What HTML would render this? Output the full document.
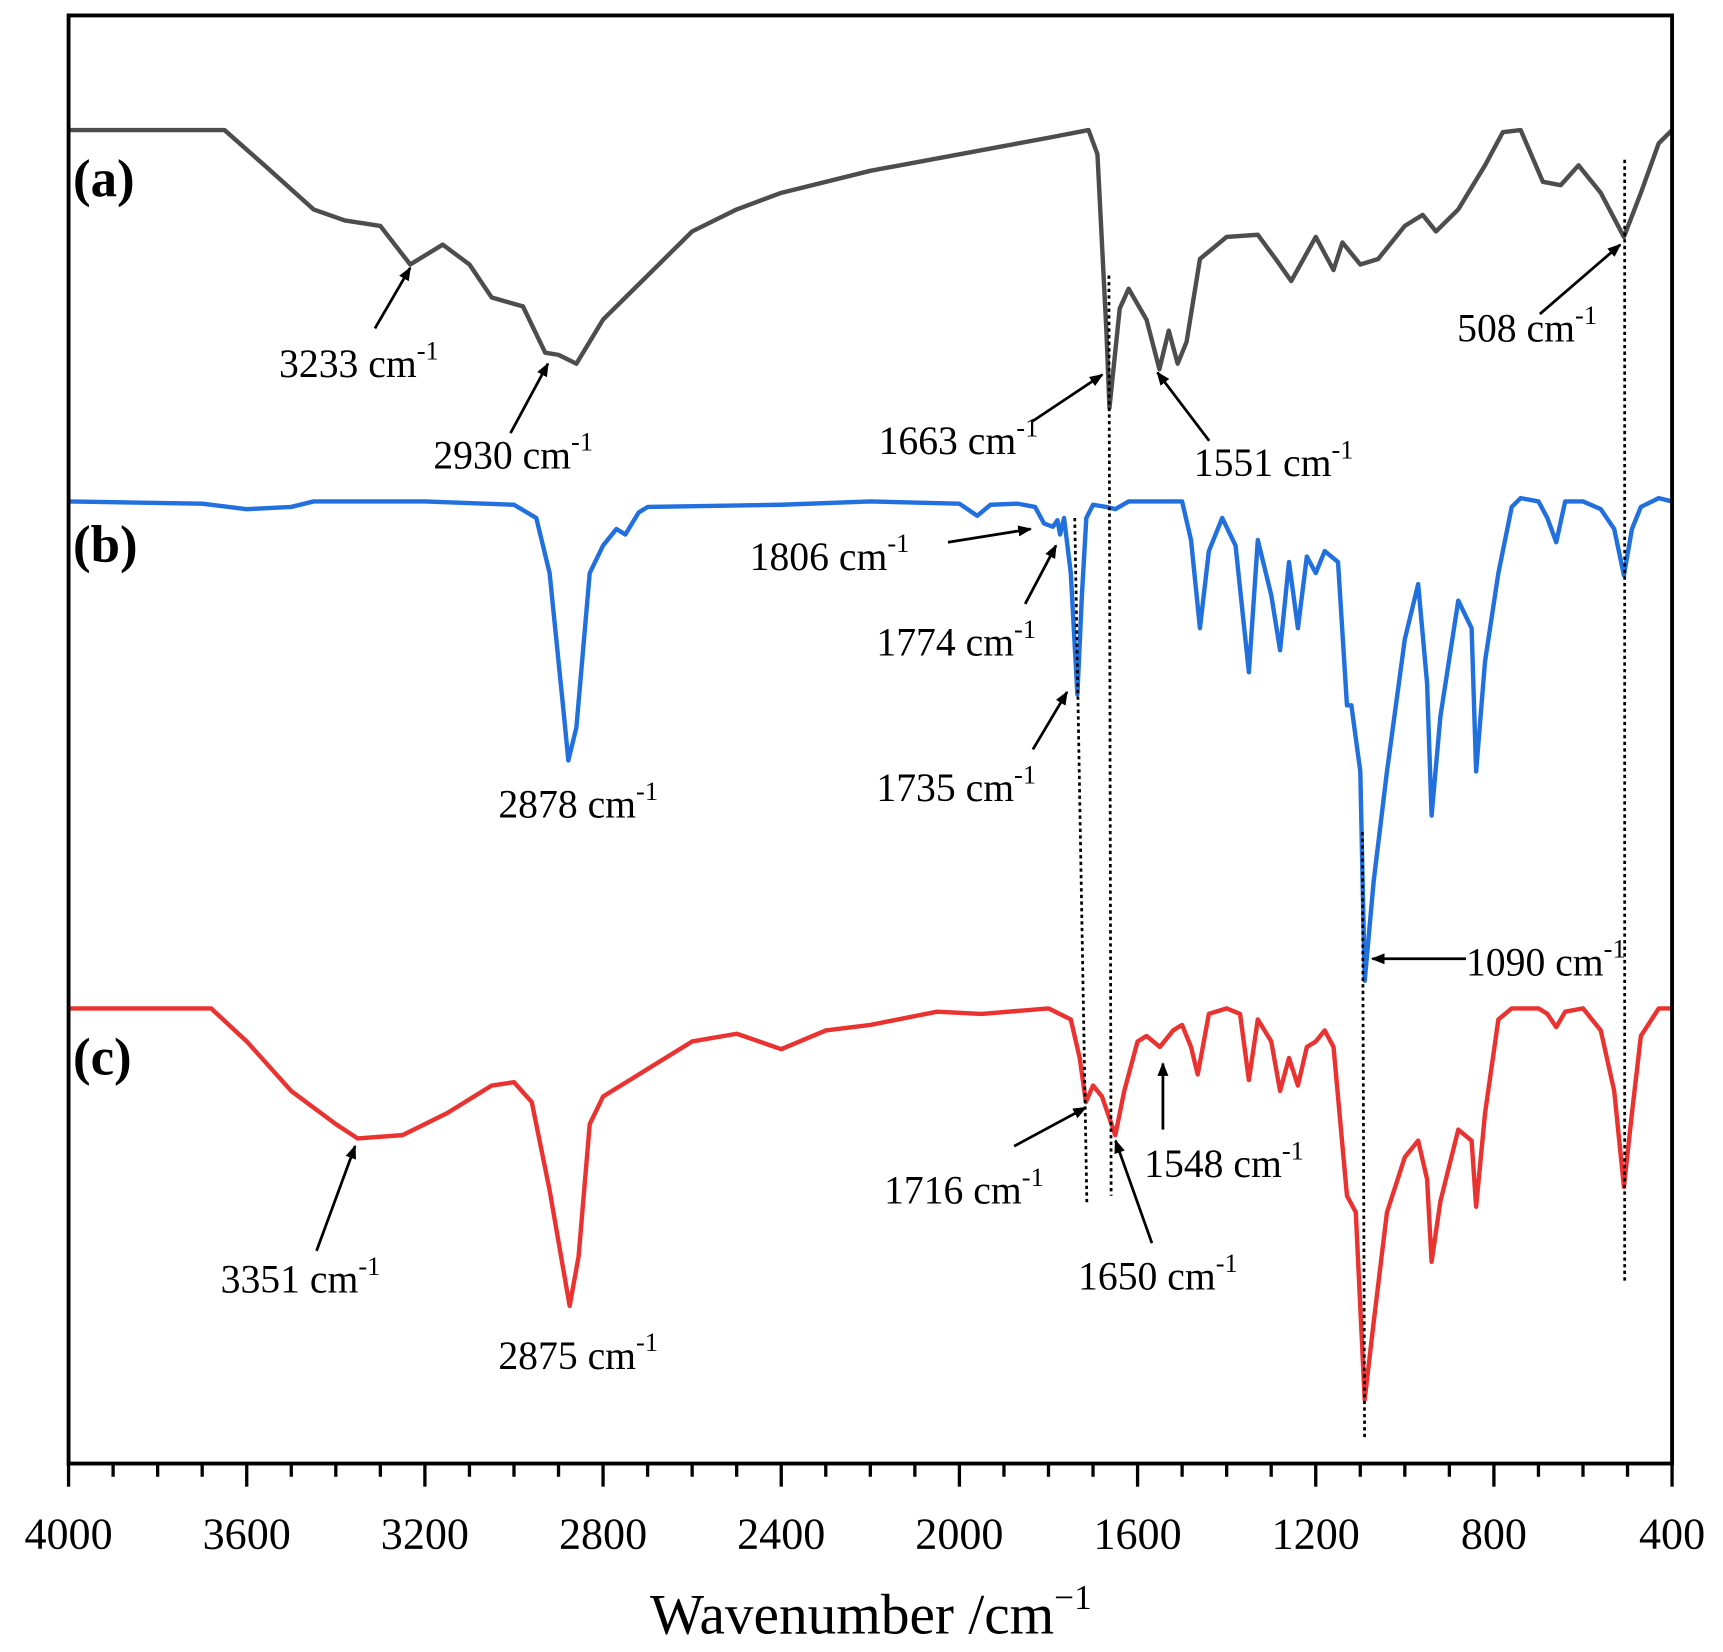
<!DOCTYPE html>
<html><head><meta charset="utf-8"><style>
html,body{margin:0;padding:0;background:#fff;}
svg{display:block;}
text{font-family:"Liberation Serif",serif;fill:#000;}
</style></head><body>
<svg id="s" width="1723" height="1652" viewBox="0 0 1563 1499" xmlns="http://www.w3.org/2000/svg">
<rect x="0" y="0" width="1563" height="1499" fill="#fff"/>
<defs><marker id="ar" viewBox="0 0 10 10" refX="9" refY="5" markerWidth="5" markerHeight="5" orient="auto"><path d="M0,1 L10,5 L0,9 Z" fill="#000"/></marker></defs>
<g id="curves"></g>
<g stroke="#000" stroke-width="2.5" stroke-dasharray="3,3" fill="none">
<line x1="1006" y1="250" x2="1008" y2="1085"/>
<line x1="975" y1="470" x2="986" y2="1092"/>
<line x1="1236" y1="755" x2="1238" y2="1305"/>
<line x1="1474" y1="145" x2="1474" y2="1162"/>
</g>
<rect x="62" y="14" width="1455" height="1314" fill="none" stroke="#000" stroke-width="3.5"/>
<g id="ticks" stroke="#000" stroke-width="3"></g>
<g id="tl" font-size="40" text-anchor="middle"></g>
<text x="790" y="1482" font-size="52" text-anchor="middle">Wavenumber /cm<tspan font-size="32" dy="-22">−1</tspan></text>
<g font-size="48" font-weight="bold"><text x="66" y="178">(a)</text><text x="66" y="510">(b)</text><text x="66" y="975">(c)</text></g>
<g stroke="#000" stroke-width="2.5" marker-end="url(#ar)">
<line x1="340" y1="298" x2="372" y2="243"/>
<line x1="463" y1="393" x2="497" y2="330"/>
<line x1="937" y1="382" x2="1000" y2="340"/>
<line x1="1097" y1="400" x2="1050" y2="338"/>
<line x1="1397" y1="285" x2="1470" y2="222"/>
<line x1="860" y1="492" x2="935" y2="480"/>
<line x1="930" y1="548" x2="958" y2="495"/>
<line x1="937" y1="680" x2="968" y2="628"/>
<line x1="1330" y1="870" x2="1245" y2="870"/>
<line x1="287" y1="1135" x2="322" y2="1040"/>
<line x1="920" y1="1040" x2="985" y2="1005"/>
<line x1="1045" y1="1128" x2="1012" y2="1035"/>
<line x1="1055" y1="1025" x2="1055" y2="965"/>
</g>
<g font-size="36">
<text x="253" y="342">3233 cm<tspan font-size="24" dy="-16">-1</tspan></text>
<text x="393" y="425">2930 cm<tspan font-size="24" dy="-16">-1</tspan></text>
<text x="797" y="412">1663 cm<tspan font-size="24" dy="-16">-1</tspan></text>
<text x="1083" y="432">1551 cm<tspan font-size="24" dy="-16">-1</tspan></text>
<text x="1322" y="310">508 cm<tspan font-size="24" dy="-16">-1</tspan></text>
<text x="680" y="517">1806 cm<tspan font-size="24" dy="-16">-1</tspan></text>
<text x="795" y="595">1774 cm<tspan font-size="24" dy="-16">-1</tspan></text>
<text x="795" y="727">1735 cm<tspan font-size="24" dy="-16">-1</tspan></text>
<text x="452" y="742">2878 cm<tspan font-size="24" dy="-16">-1</tspan></text>
<text x="1330" y="885">1090 cm<tspan font-size="24" dy="-16">-1</tspan></text>
<text x="200" y="1173">3351 cm<tspan font-size="24" dy="-16">-1</tspan></text>
<text x="452" y="1242">2875 cm<tspan font-size="24" dy="-16">-1</tspan></text>
<text x="802" y="1092">1716 cm<tspan font-size="24" dy="-16">-1</tspan></text>
<text x="978" y="1170">1650 cm<tspan font-size="24" dy="-16">-1</tspan></text>
<text x="1038" y="1068">1548 cm<tspan font-size="24" dy="-16">-1</tspan></text>
</g>
<script>
var X=function(w){return 62+(4000-w)/3600*1455;};
var A=[[4000,118],[3650,118],[3560,150],[3450,190],[3380,200],[3300,205],[3233,240],[3160,222],[3100,240],[3050,270],[2980,278],[2930,320],[2900,322],[2860,330],[2800,290],[2700,250],[2600,210],[2500,190],[2400,175],[2200,155],[2000,140],[1800,125],[1710,118],[1690,140],[1670,300],[1663,370],[1640,280],[1620,262],[1580,290],[1551,335],[1530,300],[1510,330],[1490,310],[1460,235],[1400,215],[1330,213],[1290,235],[1255,255],[1200,215],[1160,245],[1140,220],[1100,240],[1060,235],[1000,205],[960,195],[930,210],[880,190],[820,150],[780,120],[740,118],[690,165],[650,168],[610,150],[560,175],[508,215],[470,175],[430,130],[400,118]];
var B=[[4000,455],[3700,457],[3600,462],[3500,460],[3450,455],[3200,455],[3000,458],[2950,470],[2920,520],[2890,640],[2878,690],[2860,660],[2830,520],[2800,495],[2770,480],[2750,485],[2720,465],[2700,460],[2400,458],[2200,455],[2000,457],[1960,468],[1930,458],[1870,457],[1830,460],[1810,475],[1790,478],[1780,472],[1774,485],[1765,470],[1750,520],[1735,630],[1725,540],[1715,470],[1700,458],[1670,460],[1650,462],[1620,455],[1500,455],[1480,490],[1460,570],[1440,500],[1410,470],[1380,495],[1350,610],[1330,490],[1300,540],[1280,590],[1260,510],[1240,570],[1220,505],[1200,520],[1180,500],[1150,510],[1130,640],[1120,640],[1100,700],[1090,890],[1070,800],[1040,700],[1000,580],[970,530],[950,620],[940,740],[920,650],[880,545],[850,570],[840,700],[820,600],[790,520],[760,460],[740,452],[700,455],[680,470],[660,492],[640,455],[600,455],[560,462],[530,480],[508,522],[490,480],[470,460],[430,452],[400,455]];
var C=[[4000,915],[3680,915],[3600,945],[3500,990],[3400,1020],[3351,1033],[3250,1030],[3150,1010],[3050,985],[3000,982],[2960,1000],[2920,1080],[2890,1150],[2875,1185],[2855,1140],[2830,1020],[2800,995],[2700,970],[2600,945],[2500,938],[2400,952],[2300,935],[2200,930],[2050,918],[1950,920],[1800,915],[1750,925],[1730,960],[1716,1000],[1700,985],[1680,995],[1650,1030],[1630,990],[1600,945],[1580,940],[1550,950],[1520,935],[1500,930],[1480,950],[1465,975],[1440,920],[1400,915],[1370,920],[1350,980],[1330,925],[1300,945],[1280,990],[1260,960],[1240,985],[1220,950],[1200,945],[1180,935],[1160,950],[1130,1085],[1110,1100],[1090,1270],[1070,1200],[1040,1100],[1000,1050],[970,1035],[950,1070],[940,1145],[920,1090],[880,1025],[850,1035],[840,1095],[820,1010],[790,925],[760,915],[700,915],[680,920],[660,932],[640,918],[600,915],[560,935],[530,990],[508,1077],[490,1010],[470,940],[430,915],[400,915]];
var NS="http://www.w3.org/2000/svg";
function path(d,c){var p=document.createElementNS(NS,"path");p.setAttribute("d","M"+d.map(function(q){return X(q[0]).toFixed(1)+","+q[1];}).join(" L"));p.setAttribute("fill","none");p.setAttribute("stroke",c);p.setAttribute("stroke-width","4");p.setAttribute("stroke-linejoin","round");document.getElementById("curves").appendChild(p);}
path(A,"#4d4d4d");path(B,"#2170de");path(C,"#ea3330");
var t=document.getElementById("ticks"),tl=document.getElementById("tl");
for(var w=4000;w>=400;w-=100){var x=X(w),maj=(w%400==0);var l=document.createElementNS(NS,"line");l.setAttribute("x1",x);l.setAttribute("x2",x);l.setAttribute("y1",1328);l.setAttribute("y2",maj?1349:1340);t.appendChild(l);
if(maj){var tx=document.createElementNS(NS,"text");tx.setAttribute("x",x);tx.setAttribute("y",1405);tx.textContent=w;tl.appendChild(tx);}}
</script>
</svg>
</body></html>
